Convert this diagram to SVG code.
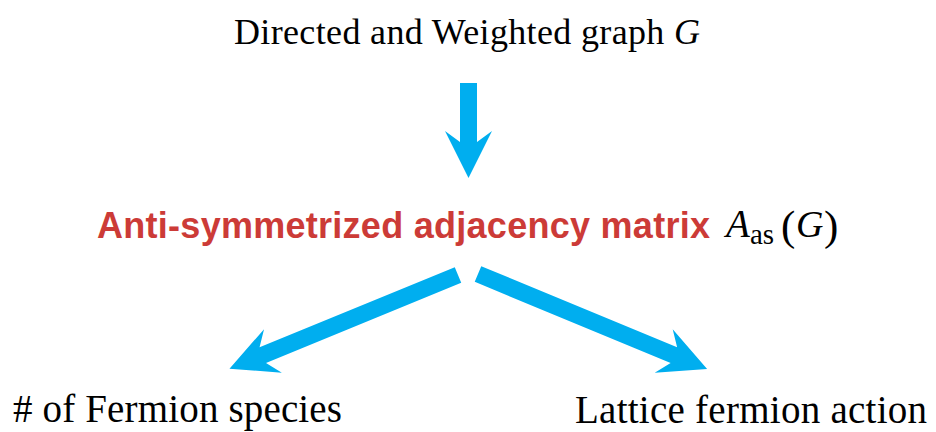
<svg xmlns="http://www.w3.org/2000/svg" width="936" height="432" viewBox="0 0 936 432">
  <style>
    .serif { font-family: "Liberation Serif", "Times New Roman", serif; fill: #000; }
    .red { font-family: "Liberation Sans", Arial, sans-serif; font-weight: bold; fill: #CC3B37; }
    .arrow { fill: #00AEEF; }
  </style>
  <rect width="936" height="432" fill="#fff"/>
  <g id="connectors">
    <path class="arrow" d="M460,83 H477 V142 L492,131 L468.5,178 L445,131 L460,142 Z"/>
    <path class="arrow" transform="translate(458,275) rotate(157.7)" d="M0,-8.5 H211 L200,-23.5 L247,0 L200,23.5 L211,8.5 H0 Z"/>
    <path class="arrow" transform="translate(478,274) rotate(22.5)" d="M0,-8.5 H212 L201,-23.5 L248,0 L201,23.5 L212,8.5 H0 Z"/>
  </g>
  <g id="graph">
    <text class="serif" x="234" y="44" font-size="36" textLength="466">Directed and Weighted graph <tspan font-style="italic">G</tspan></text>
  </g>
  <g id="matrix">
    <text class="red" x="97" y="237.5" font-size="36" textLength="613">Anti-symmetrized adjacency matrix</text>
    <text class="serif" x="726" y="237" font-size="39" font-style="italic">A</text>
    <text class="serif" x="750" y="244" font-size="29">as</text>
    <text class="serif" x="781" y="240" font-size="43">(</text>
    <text class="serif" x="796" y="237" font-size="38" font-style="italic">G</text>
    <text class="serif" x="824" y="240" font-size="43">)</text>
  </g>
  <g id="species">
    <text class="serif" x="13" y="422" font-size="39" textLength="329">#&#160;of Fermion species</text>
  </g>
  <g id="action">
    <text class="serif" x="575" y="423" font-size="39" textLength="352">Lattice fermion action</text>
  </g>
</svg>
